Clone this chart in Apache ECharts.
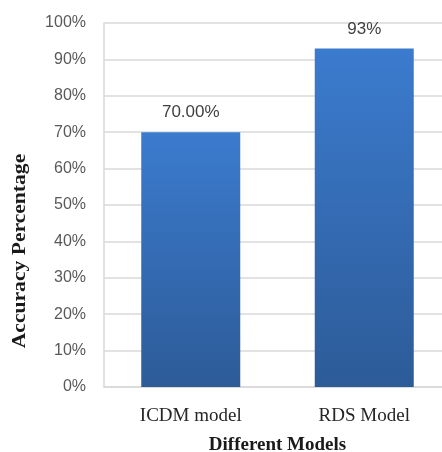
<!DOCTYPE html>
<html>
<head>
<meta charset="utf-8">
<script src="https://cdn.jsdelivr.net/npm/echarts@6/dist/echarts.min.js"></script>
<style>
  html, body { margin: 0; padding: 0; background: #ffffff; overflow: hidden; }
  #chart { width: 442px; height: 452px; }
</style>
</head>
<body>
<div id="chart"></div>
<script>
// Model names along the category axis
const models = ['ICDM model', 'RDS Model'];
// Accuracy of each model, in percent
const accuracy = [70, 93];
// Decimal places shown in each bar's value label
const labelDecimals = [2, 0];
// Value-axis ticks (percent)
const yMin = 0, yMax = 100, yStep = 10;

const chart = echarts.init(document.getElementById('chart'), null, { renderer: 'canvas' });

const barFill = new echarts.graphic.LinearGradient(0, 0, 0, 1, [
  { offset: 0, color: '#3b7bce' },
  { offset: 1, color: '#2d5b98' }
]);

chart.setOption({
  animation: false,
  backgroundColor: '#ffffff',
  grid: {
    left: 104, top: 23, bottom: 65, width: 347,
    containLabel: false,
    outerBoundsMode: 'none'
  },
  xAxis: {
    type: 'category',
    data: models,
    axisLine: { show: true, lineStyle: { color: '#d9d9d9', width: 1.5 } },
    axisTick: { show: false },
    axisLabel: {
      margin: 20,
      fontFamily: 'Liberation Serif',
      fontSize: 19,
      color: '#262626'
    },
    name: 'Different Models',
    nameLocation: 'middle',
    nameGap: 49,
    nameTextStyle: {
      fontFamily: 'Liberation Serif',
      fontWeight: 'bold',
      fontSize: 19,
      color: '#1a1a1a'
    }
  },
  yAxis: {
    type: 'value',
    min: yMin,
    max: yMax,
    interval: yStep,
    axisLine: { show: true, lineStyle: { color: '#d9d9d9', width: 1.5 } },
    axisTick: { show: false },
    splitLine: { show: true, lineStyle: { color: '#d9d9d9', width: 1.5 } },
    axisLabel: {
      margin: 18,
      formatter: '{value}%',
      fontFamily: 'Liberation Sans',
      fontSize: 16,
      color: '#595959'
    }
  },
  graphic: [{
    type: 'text',
    x: 20,
    y: 251,
    rotation: Math.PI / 2,
    scaleX: 1.2,
    style: {
      text: 'Accuracy Percentage',
      fontFamily: 'Liberation Serif',
      fontWeight: 'bold',
      fontSize: 18,
      fill: '#1a1a1a',
      align: 'center',
      verticalAlign: 'middle'
    }
  }],
  series: [{
    type: 'bar',
    data: accuracy,
    barWidth: 99,
    itemStyle: { color: barFill },
    label: {
      show: true,
      position: 'top',
      distance: 11,
      fontFamily: 'Liberation Sans',
      fontSize: 17,
      color: '#404040',
      formatter: p => p.value.toFixed(labelDecimals[p.dataIndex]) + '%'
    }
  }]
});
</script>
</body>
</html>
